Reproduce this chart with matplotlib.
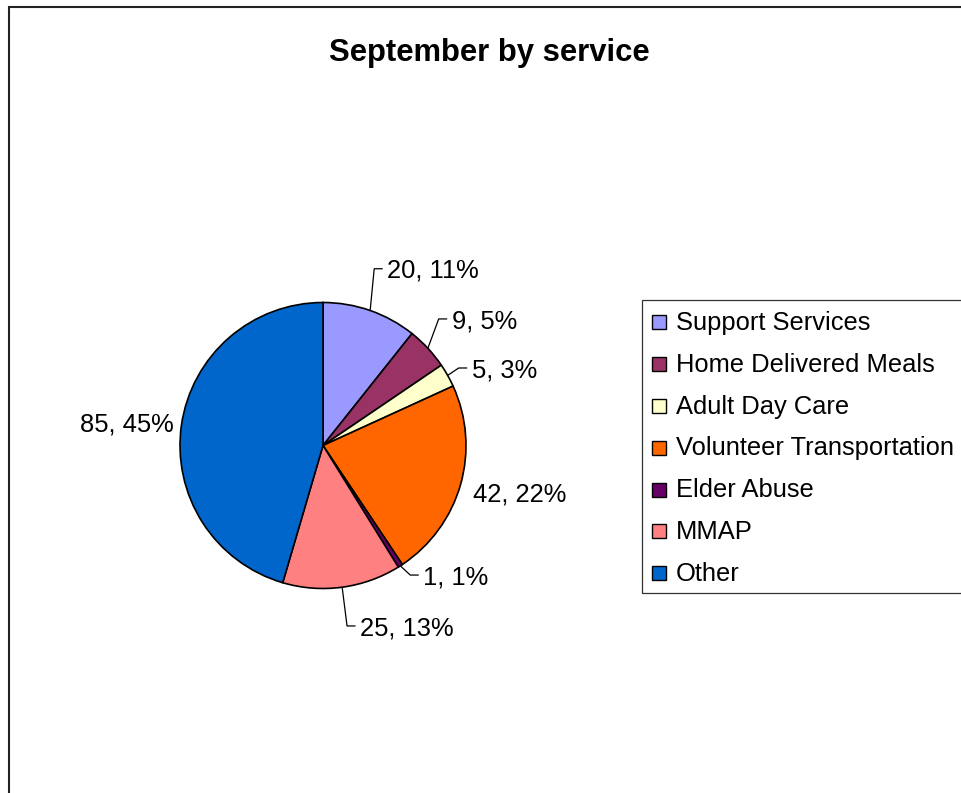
import matplotlib
matplotlib.use("Agg")
import matplotlib.pyplot as plt
import matplotlib.transforms as mtransforms
from matplotlib.patches import Rectangle
import numpy as np

# ---- data ----
categories = ["Support Services", "Home Delivered Meals", "Adult Day Care",
              "Volunteer Transportation", "Elder Abuse", "MMAP", "Other"]
values = [20, 9, 5, 42, 1, 25, 85]
percent_labels = ["11%", "5%", "3%", "22%", "1%", "13%", "45%"]
colors = ["#9999FF", "#993366", "#FFFFCC", "#FF6600", "#660066", "#FF8080", "#0066CC"]
title = "September by service"

# ---- layout (label anchors in pie-radius units; text left/right edge, cap-center y) ----
label_pos = [(0.449, 1.236), (0.900, 0.885), (1.040, 0.542), (1.051, -0.325),
             (0.701, -0.906), (0.259, -1.262), (-1.043, 0.164)]
label_ha = ["left", "left", "left", "left", "left", "left", "right"]
has_leader = [True, True, True, False, True, True, False]

W, H = 961, 793
DPI = 100
FONT = "Liberation Sans"
FS = 18.4

fig = plt.figure(figsize=(W / DPI, H / DPI), dpi=DPI)
fig.patch.set_facecolor("white")

# pie axes: centre (323, 445.5) px, radius 143 px, limits +/-1.5
R = 143.0
cx, cy = 323.0, 445.5
half = 1.5 * R
ax = fig.add_axes([(cx - half) / W, (H - cy - half) / H, 2 * half / W, 2 * half / H])

wedges, _ = ax.pie(values, colors=colors, startangle=90, counterclock=False, radius=1.0,
                   wedgeprops=dict(edgecolor="black", linewidth=1.2))
ax.set_xlim(-1.5, 1.5)
ax.set_ylim(-1.5, 1.5)
ax.set_aspect("equal")
ax.axis("off")

for w in wedges:
    w.set_clip_on(False)

# cap-height offset so the given y is the visual centre of the digits
cap_off = -0.716 * FS / 2
txt_trans = mtransforms.offset_copy(ax.transData, fig=fig, y=cap_off, units="points")

px = 1.0 / R
for i, w in enumerate(wedges):
    ang = np.deg2rad((w.theta1 + w.theta2) / 2)
    ex, ey = np.cos(ang), np.sin(ang)
    tx, ty = label_pos[i]
    ax.text(tx, ty, f"{values[i]}, {percent_labels[i]}", transform=txt_trans,
            ha=label_ha[i], va="baseline", fontsize=FS, family=FONT, color="black")
    if has_leader[i]:
        ax.plot([ex, tx - 13 * px, tx - 4.5 * px], [ey, ty, ty], color="black",
                linewidth=0.9, solid_capstyle="butt", clip_on=False)

# title
fig.text(489 / W, 1 - 60.5 / H, title, ha="center", va="baseline",
         fontsize=22.3, fontweight="bold", family=FONT)

# outer chart border (extends past right/bottom edges)
fig.patches.append(Rectangle((9 / W, -0.05), 1.2, 1 - 7 / H + 0.05,
                             transform=fig.transFigure, fill=False,
                             edgecolor="#222222", linewidth=1.5, clip_on=False))

# legend (frame extends past right edge)
leg_left, leg_top, leg_bottom = 641.5, 300.0, 593.0
fig.patches.append(Rectangle((leg_left / W, 1 - leg_bottom / H), 1.0,
                             (leg_bottom - leg_top) / H, transform=fig.transFigure,
                             fill=False, edgecolor="#333333", linewidth=0.9))
row0, dy = 320.8, 41.8
sq = 14.0
for i, cat in enumerate(categories):
    yc = row0 + i * dy
    fig.patches.append(Rectangle((652 / W, 1 - (yc + 1.5 + sq / 2) / H), sq / W, sq / H,
                                 transform=fig.transFigure, facecolor=colors[i],
                                 edgecolor="black", linewidth=1.0))
    fig.text(675.5 / W, 1 - (yc + 0.716 * FS * DPI / 72 / 2) / H, cat,
             ha="left", va="baseline", fontsize=FS, family=FONT)

fig.savefig("out.png", dpi=DPI, facecolor="white")
